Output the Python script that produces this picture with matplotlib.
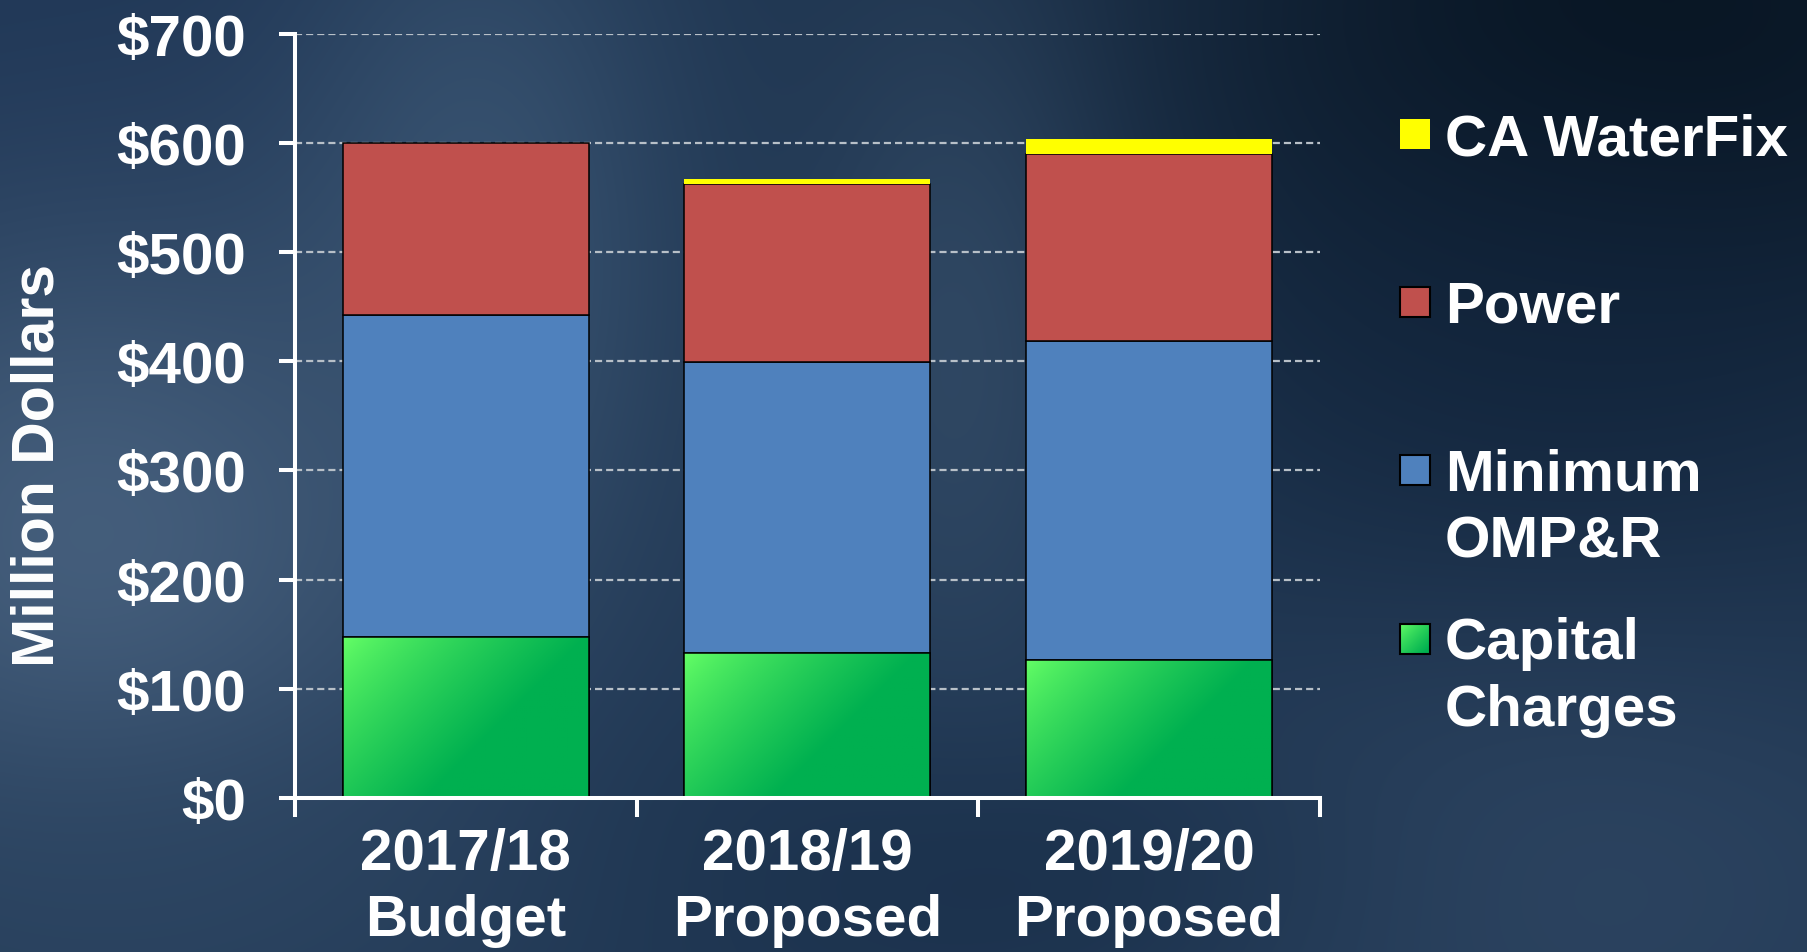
import matplotlib
matplotlib.use('Agg')
import matplotlib.pyplot as plt
from matplotlib.patches import Rectangle
from matplotlib.colors import to_rgb
import numpy as np

plt.rcParams['font.family'] = ['Liberation Sans', 'DejaVu Sans']
plt.rcParams['font.weight'] = 'bold'

# data (million dollars)
categories = ['2017/18\nBudget', '2018/19\nProposed', '2019/20\nProposed']
capital_charges = [147, 132.5, 126.6]
minimum_ompr = [295, 267, 292]
power = [158, 163, 171]
ca_waterfix = [0, 4.5, 13.6]
yticks = [0, 100, 200, 300, 400, 500, 600, 700]
legend_labels = ['CA WaterFix', 'Power', 'Minimum\nOMP&R', 'Capital\nCharges']

W, H = 1808, 953
fig = plt.figure(figsize=(W / 100, H / 100), dpi=100)

# stormy blue backdrop
bg_ax = fig.add_axes([0, 0, 1, 1], zorder=-5)
X, Y = np.meshgrid(np.arange(W), np.arange(H))
img = np.ones((H, W, 3)) * np.array(to_rgb('#203753'))
blobs = [
    (80, 60, 260, 170, '#1f3656', 0.8),
    (1650, 30, 380, 260, '#07131f', 0.95),
    (1550, 380, 260, 230, '#10233b', 0.6),
    (480, 220, 140, 260, '#3e5a78', 0.7),
    (90, 540, 260, 240, '#4a6482', 0.85),
    (960, 340, 110, 260, '#405a76', 0.5),
    (1550, 880, 320, 200, '#344c69', 0.6),
    (1000, 880, 260, 110, '#142a44', 0.5),
    (150, 900, 300, 120, '#2c4562', 0.6),
]
for bx, by, sx, sy, c, wgt in blobs:
    m = wgt * np.exp(-((X - bx) ** 2 / (2 * sx ** 2) + (Y - by) ** 2 / (2 * sy ** 2)))
    img = img * (1 - m[..., None]) + np.array(to_rgb(c)) * m[..., None]
bg_ax.imshow(img, aspect='auto', extent=[0, W, H, 0])
bg_ax.set_xlim(0, W)
bg_ax.set_ylim(H, 0)
bg_ax.axis('off')

ax = fig.add_axes([295 / W, 1 - 799 / H, 1025 / W, (799 - 34.6) / H])
ax.set_facecolor('none')

x = np.arange(len(categories))
bw = 0.72
bottom1 = np.array(capital_charges)
bottom2 = bottom1 + np.array(minimum_ompr)
bottom3 = bottom2 + np.array(power)

green_bars = ax.bar(x, capital_charges, bw, color='#00b050', edgecolor='black', linewidth=1.1, zorder=3)
ax.bar(x, minimum_ompr, bw, bottom=bottom1, color='#4f81bd', edgecolor='black', linewidth=1.1, zorder=3)
ax.bar(x, power, bw, bottom=bottom2, color='#c0504d', edgecolor='black', linewidth=1.1, zorder=3)
ax.bar(x, ca_waterfix, bw, bottom=bottom3, color='#ffff00', edgecolor='none', linewidth=0, zorder=4)

light = np.array(to_rgb('#66ff66'))
dark = np.array(to_rgb('#00b050'))


def gradient(nx, ny, wpx, hpx, reach=0.6):
    # row 0 = top, col 0 = left; light in the top-left corner
    u = np.linspace(0, 1, nx)[None, :] * wpx
    v = np.linspace(0, 1, ny)[:, None] * hpx
    t = (u + v) / (wpx + hpx)
    t = np.clip(t / reach, 0, 1) ** 0.8
    return light * (1 - t[..., None]) + dark * t[..., None]


for rect, h in zip(green_bars, capital_charges):
    x0 = rect.get_x()
    g = gradient(120, 80, 247, h * 1.092)
    im = ax.imshow(g, extent=[x0, x0 + bw, 0, h], aspect='auto', zorder=3.5)
    im.set_clip_path(rect)
    ax.add_patch(Rectangle((x0, 0), bw, h, fill=False, edgecolor='black', linewidth=1.1, zorder=3.6))

ax.set_xlim(-0.5, 2.5)
ax.set_ylim(0, 700)
ax.set_yticks(yticks)
ax.set_yticklabels(['$' + str(v) for v in yticks])
ax.set_xticks(x)
ax.set_xticklabels(categories, linespacing=1.28)
ax.set_xticks([-0.5, 0.5, 1.5, 2.5], minor=True)
ax.tick_params(axis='y', colors='white', labelsize=42, length=11.5, width=2.9, pad=24, direction='out')
ax.tick_params(axis='x', which='major', colors='white', labelsize=42, length=0, pad=21)
ax.tick_params(axis='x', which='minor', colors='white', length=13.7, width=2.9, direction='out')
for lab in ax.get_xticklabels() + ax.get_yticklabels():
    lab.set_fontweight('bold')
    lab.set_color('white')

for s in ['top', 'right']:
    ax.spines[s].set_visible(False)
for s in ['left', 'bottom']:
    ax.spines[s].set_color('white')
    ax.spines[s].set_linewidth(2.9)
ax.spines['left'].set_zorder(5)
ax.spines['bottom'].set_zorder(5)

ax.yaxis.grid(True, color='#b8c0c8', linestyle=(0, (3.2, 1.8)), linewidth=1.6, zorder=1)
ax.set_axisbelow(True)

fig.text(38 / W, 1 - 466 / H, 'Million Dollars', rotation=90, ha='center', va='center',
         color='white', fontsize=42.5, fontweight='bold')

# legend drawn by hand on a pixel-coordinate overlay
lg = fig.add_axes([0, 0, 1, 1], zorder=10)
lg.set_xlim(0, W)
lg.set_ylim(H, 0)
lg.axis('off')
lg.patch.set_alpha(0)
sq_y = [120, 288, 456, 625]
baselines = [155, 323, 491, 659]
face = ['#ffff00', '#c0504d', '#4f81bd', None]
for i, lab in enumerate(legend_labels):
    if face[i] is None:
        lg.imshow(gradient(30, 30, 30, 30, reach=0.9), extent=[1400, 1430, sq_y[i] + 30, sq_y[i]],
                  aspect='auto', zorder=2)
        lg.add_patch(Rectangle((1400, sq_y[i]), 30, 30, fill=False, edgecolor='black', linewidth=1.5, zorder=3))
    else:
        ec = 'none' if i == 0 else 'black'
        lg.add_patch(Rectangle((1400, sq_y[i]), 30, 30, facecolor=face[i], edgecolor=ec, linewidth=1.5))
    for j, line in enumerate(lab.split('\n')):
        lg.text(1445, baselines[i] + j * 67, line, color='white', fontsize=42, fontweight='bold',
                ha='left', va='baseline')
lg.set_xlim(0, W)
lg.set_ylim(H, 0)

fig.savefig('out.png', dpi=100)
